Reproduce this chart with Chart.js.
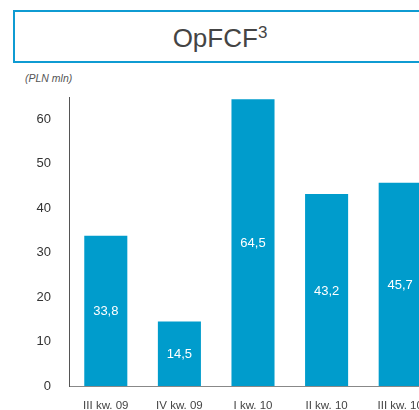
<!DOCTYPE html>
<html lang="pl">
<head>
    <meta charset="UTF-8">
    <title>OpFCF</title>
    <script src="https://cdn.jsdelivr.net/npm/chart.js"></script>
    <style>
        html, body { margin: 0; padding: 0; background: #fff; overflow: hidden; width: 419px; height: 410px; }
        .title-box {
            position: absolute; left: 13px; top: 10px; width: 410px; height: 49px;
            border: 2px solid #0f9bd2; text-align: center;
            font-family: "Liberation Sans", Arial, sans-serif; font-size: 26px; color: #444;
            line-height: 52px;
        }
        .title-box sup { font-size: 17px; vertical-align: 9px; line-height: 0; }
        .unit {
            position: absolute; left: 25px; top: 72px;
            font-family: "Liberation Sans", Arial, sans-serif; font-style: italic; font-size: 10.5px; color: #555;
        }
        .chart-wrap { position: absolute; left: 0; top: 0; width: 440px; height: 410px; }
    </style>
</head>
<body>
    <div class="title-box">OpFCF<sup>3</sup></div>
    <div class="unit">(PLN mln)</div>
    <div class="chart-wrap"><canvas id="opfcfChart"></canvas></div>

    <script>
        const quarters = ['III kw. 09', 'IV kw. 09', 'I kw. 10', 'II kw. 10', 'III kw. 10'];
        const opfcf = [33.8, 14.5, 64.5, 43.2, 45.7];
        const yTicks = [0, 10, 20, 30, 40, 50, 60];

        // white value labels in the middle of each bar
        const barLabels = {
            id: 'barLabels',
            afterDatasetsDraw(chart) {
                const ctx = chart.ctx;
                const meta = chart.getDatasetMeta(0);
                ctx.save();
                ctx.fillStyle = '#fff';
                ctx.font = '13px "Liberation Sans", Arial, sans-serif';
                ctx.textAlign = 'center';
                ctx.textBaseline = 'middle';
                meta.data.forEach((bar, i) => {
                    const mid = (bar.y + bar.base) / 2;
                    ctx.fillText(opfcf[i].toFixed(1).replace('.', ','), bar.x, mid + 1);
                });
                ctx.restore();
            }
        };

        const ctx = document.getElementById('opfcfChart').getContext('2d');
        new Chart(ctx, {
            type: 'bar',
            data: {
                labels: quarters,
                datasets: [{
                    data: opfcf,
                    backgroundColor: '#009ccc',
                    barPercentage: 0.585,
                    categoryPercentage: 1
                }]
            },
            options: {
                responsive: true,
                maintainAspectRatio: false,
                animation: false,
                layout: { padding: { top: 97, right: 3, left: 0, bottom: 0 } },
                plugins: { legend: { display: false }, tooltip: { enabled: false } },
                scales: {
                    x: {
                        grid: { display: false },
                        border: { display: true, color: '#888', width: 1 },
                        ticks: {
                            color: '#444',
                            font: { family: '"Liberation Sans", Arial, sans-serif', size: 11.5 },
                            padding: 5,
                            maxRotation: 0
                        },
                        afterFit(scale) { scale.height = 24; }
                    },
                    y: {
                        min: 0,
                        max: 65,
                        grid: { display: false },
                        border: { display: true, color: '#555', width: 1 },
                        afterBuildTicks(scale) { scale.ticks = yTicks.map(v => ({ value: v })); },
                        ticks: {
                            color: '#333',
                            font: { family: '"Liberation Sans", Arial, sans-serif', size: 13 },
                            padding: 10
                        },
                        afterFit(scale) { scale.width = 69; }
                    }
                }
            },
            plugins: [barLabels]
        });
    </script>
</body>
</html>
